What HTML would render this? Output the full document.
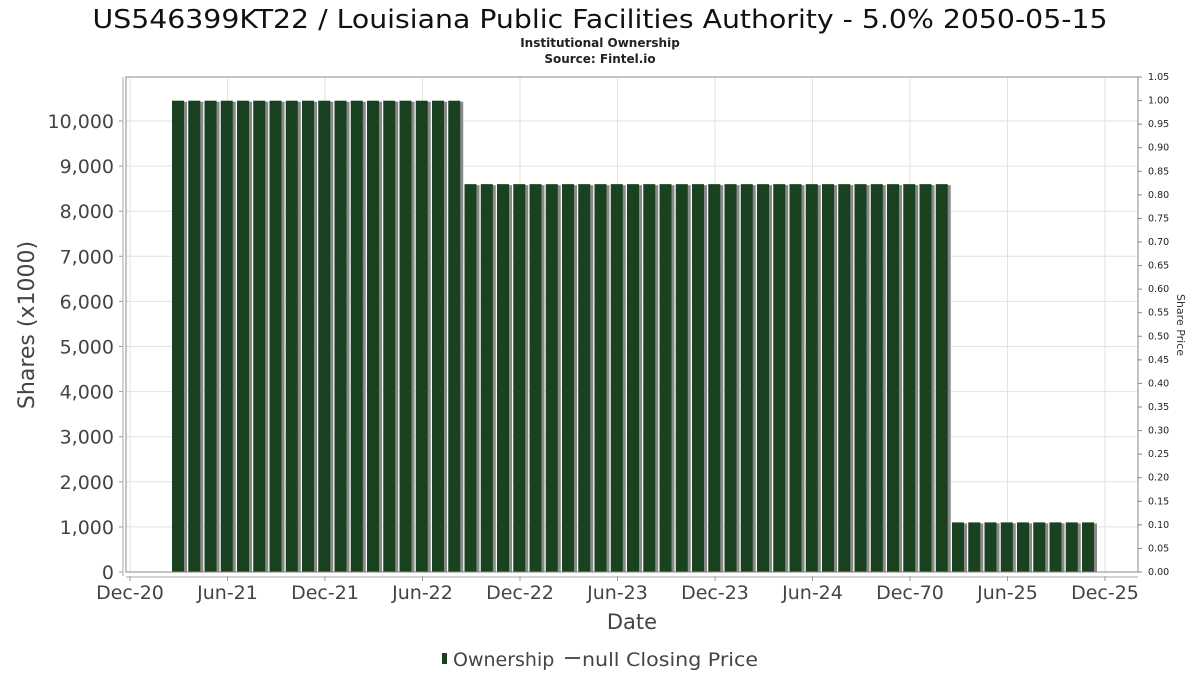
<!DOCTYPE html>
<html><head><meta charset="utf-8"><style>
body{margin:0;background:#fff;width:1200px;height:675px;overflow:hidden;font-family:"DejaVu Sans","Liberation Sans",sans-serif}
</style></head><body>
<svg id="chart" width="1200" height="675" xmlns="http://www.w3.org/2000/svg" font-family="DejaVu Sans, Liberation Sans, sans-serif">
<text x="600" y="28" text-anchor="middle" font-size="26" fill="#111" textLength="1015" lengthAdjust="spacingAndGlyphs">US546399KT22 / Louisiana Public Facilities Authority - 5.0% 2050-05-15</text>
<text x="600" y="47" text-anchor="middle" font-size="12" font-weight="bold" fill="#222">Institutional Ownership</text>
<text x="600" y="63" text-anchor="middle" font-size="12" font-weight="bold" fill="#222">Source: Fintel.io</text>
<g id="grid"></g>
<g id="bars"></g>
<g id="axes"></g>
<text transform="translate(34,325) rotate(-90)" text-anchor="middle" font-size="22" fill="#444">Shares (x1000)</text>
<text transform="translate(1177,325) rotate(90)" text-anchor="middle" font-size="11" fill="#333">Share Price</text>
<text x="632" y="629" text-anchor="middle" font-size="21" fill="#444">Date</text>
<g>
<rect x="442" y="653" width="5" height="11" fill="#1a4221"/>
<text x="453" y="666" font-size="19" fill="#444">Ownership</text>
<line x1="565" y1="658" x2="580" y2="658" stroke="#555" stroke-width="2"/>
<text x="582" y="666" font-size="19" fill="#444" textLength="176" lengthAdjust="spacingAndGlyphs">null Closing Price</text>
</g>
</svg>
<script>
const shares = [10450,10450,10450,10450,10450,10450,10450,10450,10450,10450,10450,10450,10450,10450,10450,10450,10450,10450,
8600,8600,8600,8600,8600,8600,8600,8600,8600,8600,8600,8600,8600,8600,8600,8600,8600,8600,8600,8600,8600,8600,8600,8600,8600,8600,8600,8600,8600,8600,
1100,1100,1100,1100,1100,1100,1100,1100,1100];
const yTicks = [0,1000,2000,3000,4000,5000,6000,7000,8000,9000,10000];
const priceTicks = [0,0.05,0.10,0.15,0.20,0.25,0.30,0.35,0.40,0.45,0.50,0.55,0.60,0.65,0.70,0.75,0.80,0.85,0.90,0.95,1.00,1.05];
const xLabels = ["Dec-20","Jun-21","Dec-21","Jun-22","Dec-22","Jun-23","Dec-23","Jun-24","Dec-70","Jun-25","Dec-25"];

const NS="http://www.w3.org/2000/svg";
const L=126,R=1138,T=77,B=572;
const y=v=>B-v*(572-121)/10000;
const yp=v=>B-v*(B-T)/1.05;
const xl=i=>130+i*97.5;
const xb=i=>172+i*16.25;
function mk(tag,attrs,parent){const e=document.createElementNS(NS,tag);for(const k in attrs)e.setAttribute(k,attrs[k]);parent.appendChild(e);return e;}
const grid=document.getElementById('grid'),bars=document.getElementById('bars'),axes=document.getElementById('axes');
mk('rect',{x:L,y:T,width:R-L,height:B-T,fill:'#fff',stroke:'none'},grid);
yTicks.forEach(v=>{
  const g=mk('line',{x1:L,x2:R,y1:y(v),y2:y(v),stroke:'#e2e2e2'},grid);
  
  
  const t=mk('text',{x:114,y:y(v)+7,'text-anchor':'end','font-size':19,fill:'#444'},axes);
  t.textContent=v.toLocaleString('en-US');
  
  
  mk('line',{x1:119,x2:123,y1:y(v),y2:y(v),stroke:'#999'},axes);
});
xLabels.forEach((s,i)=>{
  const g=mk('line',{x1:xl(i),x2:xl(i),y1:T,y2:B,stroke:'#e2e2e2'},grid);
  
  
  mk('line',{x1:xl(i),x2:xl(i),y1:576,y2:581},axes);
  axes.lastChild.setAttribute('stroke','#999');
  const t=mk('text',{x:xl(i),y:599,'text-anchor':'middle','font-size':19,fill:'#444'},axes);
  t.textContent=s;
  
  
});
shares.forEach((v,i)=>{
  mk('rect',{x:xb(i)+3,y:y(v)+1,width:12,height:B-y(v)-1,fill:'#8a8a8a'},bars);
  const r=mk('rect',{x:xb(i),y:y(v),width:12,height:B-y(v),fill:'#1a4221'},bars);
  
  
});
mk('rect',{x:L,y:T,width:R-L,height:B-T,fill:'none',stroke:'#888'},axes);
mk('line',{x1:123,x2:123,y1:T,y2:B+4,stroke:'#aaa'},axes);
mk('line',{x1:L,x2:R,y1:577,y2:577,stroke:'#aaa'},axes);
priceTicks.forEach(v=>{
  mk('line',{x1:R,x2:R+4,y1:yp(v),y2:yp(v),stroke:'#888'},axes);
  const t=mk('text',{x:1148,y:yp(v)+3,'font-size':9.5,fill:'#222'},axes);
  t.textContent=v.toFixed(2);
  
  
});
</script>
</body></html>
